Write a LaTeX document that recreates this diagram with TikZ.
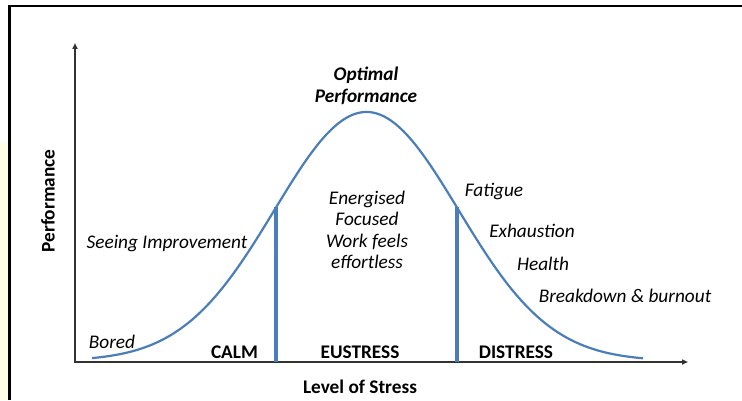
\documentclass[tikz,border=0pt]{standalone}
\usepackage{fontspec}
\setmainfont{Carlito}
\usetikzlibrary{arrows.meta}
\definecolor{curveblue}{HTML}{4A7EBB}
\definecolor{axisgray}{HTML}{333333}
\definecolor{pagestrip}{HTML}{FFFDE6}
\newcommand{\lblfont}{\fontsize{19.3}{21.5}\selectfont}
\tikzset{
  axis/.style     = {line width=1.7pt, draw=axisgray, line join=miter,
                     {Triangle[length=6pt, width=5pt]}-{Triangle[length=6pt, width=5pt]}},
  bell/.style     = {draw=curveblue, line width=2.2pt},
  zoneline/.style = {draw=curveblue, line width=3.2pt},
  zonelbl/.style  = {font=\lblfont\bfseries, anchor=base, inner sep=0pt},
  notelbl/.style  = {font=\lblfont\itshape, anchor=base, inner sep=0pt},
  peaklbl/.style  = {font=\lblfont\bfseries\itshape, align=center, inner sep=0pt},
  midlbl/.style   = {font=\lblfont\itshape, align=center, inner sep=0pt},
  axislbl/.style  = {font=\lblfont\bfseries, inner sep=0pt},
  declare function = {perf(\x) = 39 + 249*exp(-0.5*((\x-366.5)/92)^2);},
}

\begin{document}
\begin{tikzpicture}[x=1pt, y=1pt]
  \useasboundingbox (0,0) rectangle (742,400);

  % page edge and frame
  \fill[pagestrip] (0,0) rectangle (8,257);
  \draw[line width=2.5pt, line join=miter] (9.5,0) -- (9.5,394) -- (742,394);

  % axes
  \coordinate (origin) at (75,38);
  \coordinate (ytop)   at (75,357);
  \coordinate (xend)   at (688,38);
  \draw[axis] (ytop) -- (origin) -- (xend);

  % stress curve
  \draw[bell] plot[domain=92:643, samples=100, smooth] (\x, {perf(\x)});

  % zone boundaries
  \coordinate (calmtop) at (276, {perf(276)});
  \coordinate (calmbot) at (276, 38);
  \coordinate (distop)  at (457, {perf(457)});
  \coordinate (disbot)  at (457, 38);
  \draw[zoneline] (calmtop) -- (calmbot);
  \draw[zoneline] (distop) -- (disbot);

  \node[peaklbl] (peak) at (366,314) {Optimal\\Performance};
  \node[midlbl]  (flow) at (367,170) {Energised\\Focused\\Work feels\\effortless};

  \node[notelbl] (bored)   at (112,52)  {Bored};
  \node[notelbl] (seeing)  at (167,152) {Seeing Improvement};
  \node[notelbl] (fatigue) at (494,204) {Fatigue};
  \node[notelbl] (exhaust) at (532,163) {Exhaustion};
  \node[notelbl] (health)  at (543,130) {Health};
  \node[notelbl] (burnout) at (625,98)  {Breakdown \& burnout};

  \node[zonelbl] (calm)     at (234.5,42) {CALM};
  \node[zonelbl] (eustress) at (360,42)   {EUSTRESS};
  \node[zonelbl] (distress) at (516,42)   {DISTRESS};

  \node[axislbl, anchor=base] (xlbl) at (360,7) {Level of Stress};
  \node[axislbl, rotate=90]   (ylbl) at (48,199) {Performance};
\end{tikzpicture}
\end{document}
